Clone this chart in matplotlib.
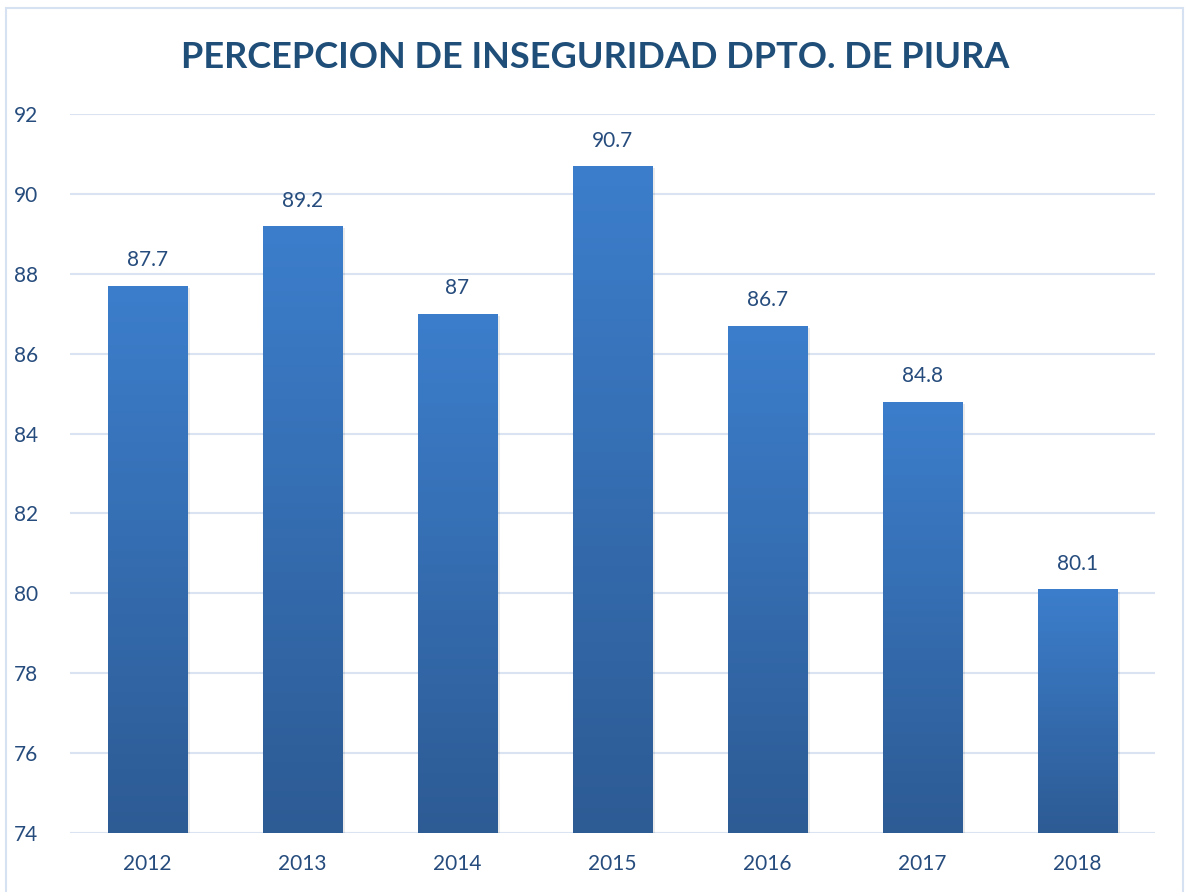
import matplotlib
matplotlib.use("Agg")
import matplotlib.pyplot as plt
import numpy as np
from matplotlib.colors import LinearSegmentedColormap
from matplotlib.patches import Rectangle

years = ["2012", "2013", "2014", "2015", "2016", "2017", "2018"]
values = [87.7, 89.2, 87, 90.7, 86.7, 84.8, 80.1]
value_labels = ["87.7", "89.2", "87", "90.7", "86.7", "84.8", "80.1"]
yticks = [74, 76, 78, 80, 82, 84, 86, 88, 90, 92]

plt.rcParams['font.family'] = ['Lato', 'DejaVu Sans']
text_color = "#1F4E79"
label_color = "#264C7D"

fig = plt.figure(figsize=(11.85, 8.92), dpi=100)
fig.patch.set_facecolor("white")
# outer border
fig.add_artist(Rectangle((6/1185, -0.01), (1183-6)/1185, 1 - 8/892 + 0.01,
                         transform=fig.transFigure, fill=False,
                         edgecolor="#D6E2F2", linewidth=1.5))

ax = fig.add_axes([70/1185, 1-833/892, (1155-70)/1185, (833-114)/892])
ax.set_xlim(-0.5, len(years)-0.5)
ax.set_ylim(74, 92)
ax.set_yticks(yticks)
ax.set_yticklabels([str(t) for t in yticks])
ax.set_xticks(range(len(years)))
ax.set_xticklabels(years)
for s in ax.spines.values():
    s.set_visible(False)
ax.tick_params(axis='both', length=0, labelsize=15, labelcolor=label_color)
ax.tick_params(axis='y', pad=23)
ax.tick_params(axis='x', pad=15)
ax.grid(axis='y', color="#D9E3F1", linewidth=1.5, zorder=0)
ax.set_axisbelow(True)

cmap = LinearSegmentedColormap.from_list("g", ["#2D5B94", "#3C7ECC"])
width = 0.51
bars = ax.bar(range(len(years)), values, width=width, color="none", zorder=3)
for i, (b, v) in enumerate(zip(bars, values)):
    x0 = b.get_x()
    # soft shadow
    ax.bar(i + 0.012, v - 74, bottom=74 - 0.06, width=width + 0.02,
           color="#000000", alpha=0.08, zorder=2, linewidth=0)
    grad = np.linspace(0, 1, 256).reshape(-1, 1)
    im = ax.imshow(grad, extent=[x0, x0 + width, 74, v], origin='lower',
                   cmap=cmap, aspect='auto', zorder=3)
    im.set_clip_path(b)
    ax.annotate(value_labels[i], (i, v), xytext=(0, 11), textcoords='offset points',
                ha='center', va='bottom', fontsize=15, color=label_color)
ax.set_xlim(-0.5, len(years)-0.5)
ax.set_ylim(74, 92)

fig.text(0.502, 1-58/892, "PERCEPCION DE INSEGURIDAD DPTO. DE PIURA",
         ha='center', va='center', fontsize=26, fontweight='bold', color=text_color)

fig.savefig("out.png", dpi=100)
